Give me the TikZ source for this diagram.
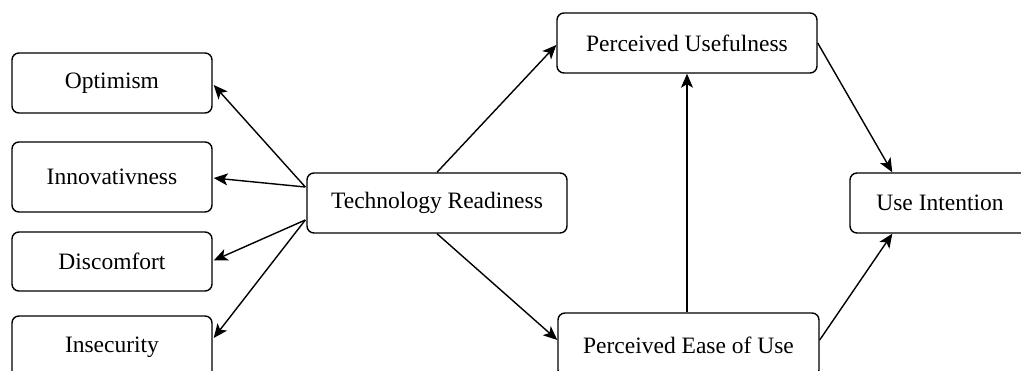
\documentclass[tikz,border=0pt]{standalone}
\usepackage{fontspec}
\setmainfont{Liberation Serif}
\usetikzlibrary{arrows.meta,calc}
\begin{document}
\begin{tikzpicture}[x=1pt,y=-1pt,
  box/.style={draw=black,line width=1.4pt,rounded corners=7pt,fill=white,
    inner sep=0pt,align=center,font=\fontsize{23.5}{28}\selectfont},
  conn/.style={line width=1.4pt,-{Stealth[length=14pt,width=12pt,inset=3.5pt]}}]
\useasboundingbox (0,0) rectangle (1021,371);
\clip (0,0) rectangle (1021,371);
\node[box,minimum width=200pt,minimum height=60pt] (opt) at (112,83) {Optimism};
\node[box,minimum width=200pt,minimum height=70pt] (inn) at (112,177) {Innovativness};
\node[box,minimum width=200pt,minimum height=59pt] (dis) at (112,261.5) {Discomfort};
\node[box,minimum width=200pt,minimum height=62pt] (ins) at (112,347) {Insecurity};
\node[box,minimum width=260pt,minimum height=60pt] (tr) at (437,203) {Technology Readiness};
\node[box,minimum width=260pt,minimum height=60pt] (pu) at (687,43) {Perceived Usefulness};
\node[box,minimum width=261pt,minimum height=64pt] (peu) at (688.5,345) {Perceived Ease of Use};
\node[box,minimum width=180pt,minimum height=60pt] (ui) at (940,203) {Use Intention};
\draw[conn] ($(tr.west)+(-1,-16)$) -- ($(opt.east)+(1,2)$);
\draw[conn] ($(tr.west)+(-1,-16)$) -- ($(inn.east)+(1,1)$);
\draw[conn] ($(tr.west)+(-1,17)$) -- ($(dis.east)+(1,-1)$);
\draw[conn] ($(tr.west)+(-1,17)$) -- ($(ins.east)+(1,-9)$);
\draw[conn] (tr.north) -- ($(pu.west)+(0,2)$);
\draw[conn] (tr.south) -- ($(peu.west)+(0,-5)$);
\draw[conn] (peu.north -| pu.south) -- (pu.south);
\draw[conn] (pu.east) -- ($(ui.north west)+(43,0)$);
\draw[conn] ($(peu.east)+(0,-5)$) -- ($(ui.south west)+(43,0)$);
\end{tikzpicture}
\end{document}
